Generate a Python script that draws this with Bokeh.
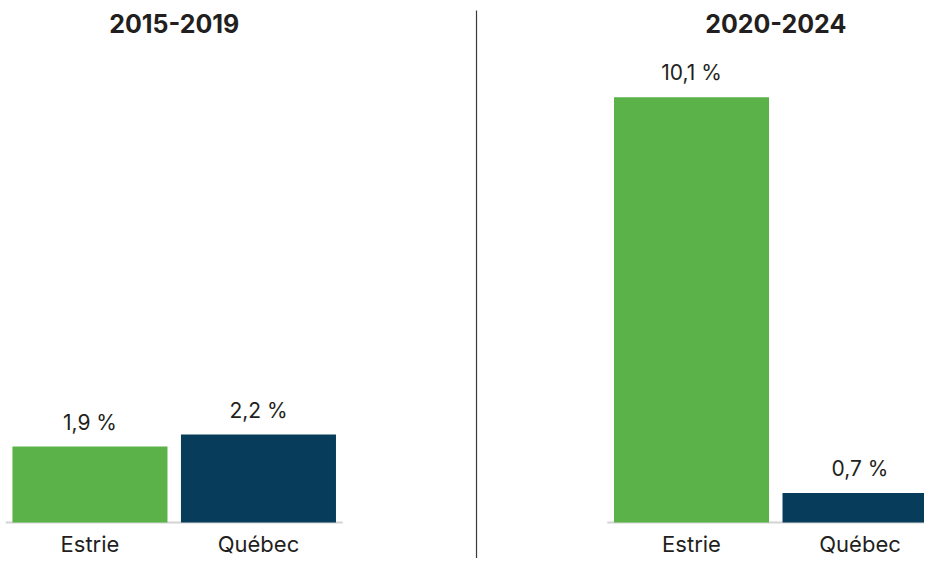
from bokeh.plotting import figure
from bokeh.models import ColumnDataSource, Range1d
from bokeh.core.properties import value
from bokeh.embed import file_html
from bokeh.resources import INLINE

# ---- data ----
periods = ["2015-2019", "2020-2024"]
regions = ["Estrie", "Québec"]
values_2015_2019 = [1.9, 2.2]
values_2020_2024 = [10.1, 0.7]
region_colors = ["#5AB248", "#073D5B"]

series = [values_2015_2019, values_2020_2024]

# ---- style / layout ----
W, H = 924, 558
PANEL_GAP = 3.57          # slot offset between the two panels
U = 168.5                 # px per slot
X_START = -0.531
BAR_W = 0.92
BASE_EXT = 0.5
BASE_PX = 36              # px from frame bottom to baseline
PX_PER_UNIT = [40.0, 42.1]
DIVIDER_X = 2.294
DIVIDER_TOP_GAP_PX = 10
FONT = value("Inter")
TEXT_COLOR = "#231f20"


def fmt(v):
    return f"{v:.1f}".replace(".", ",") + " %"


p = figure(width=W, height=H,
           x_range=Range1d(X_START, X_START + W / U),
           y_range=Range1d(-BASE_PX / PX_PER_UNIT[0], (H - BASE_PX) / PX_PER_UNIT[0]),
           x_axis_type=None, y_axis_type=None,
           output_backend="svg", toolbar_location=None,
           min_border=0, outline_line_color=None,
           background_fill_color="white", border_fill_color="white")
p.extra_y_ranges = {"right": Range1d(-BASE_PX / PX_PER_UNIT[1], (H - BASE_PX) / PX_PER_UNIT[1])}
p.grid.visible = False

# vertical divider between the panels
p.segment(x0=[DIVIDER_X], y0=[p.y_range.start],
          x1=[DIVIDER_X], y1=[p.y_range.end - DIVIDER_TOP_GAP_PX / PX_PER_UNIT[0]],
          line_color="#3a3a3a", line_width=1.2)

range_names = ["default", "right"]
for i, (period, vals) in enumerate(zip(periods, series)):
    rn = range_names[i]
    yr = p.y_range if i == 0 else p.extra_y_ranges["right"]
    xs = [i * PANEL_GAP + j for j in range(len(regions))]
    src = ColumnDataSource(dict(x=xs, top=vals, color=region_colors,
                                label=[fmt(v) for v in vals], region=regions))
    # baseline
    p.segment(x0=[xs[0] - BASE_EXT], y0=[0], x1=[xs[-1] + BASE_EXT], y1=[0],
              line_color="#d3d3d3", line_width=2, y_range_name=rn)
    # bars
    p.vbar(x="x", top="top", bottom=0, width=BAR_W, fill_color="color",
           line_color=None, source=src, y_range_name=rn)
    # value labels
    p.text(x="x", y="top", text="label", source=src, y_range_name=rn,
           text_align="center", text_baseline="bottom", y_offset=-12,
           text_font=FONT, text_font_size="21px", text_color=TEXT_COLOR)
    # category labels
    p.text(x="x", y=0, text="region", source=src, y_range_name=rn,
           text_align="center", text_baseline="top", y_offset=8,
           text_font=FONT, text_font_size="22px", text_color=TEXT_COLOR)
    # panel title
    p.text(x=[sum(xs) / len(xs)], y=[yr.end], text=[period], y_range_name=rn,
           text_align="center", text_baseline="middle", y_offset=23,
           text_font=FONT, text_font_style="bold", text_font_size="25px",
           text_color=TEXT_COLOR)

open("out.html", "w").write(file_html(p, INLINE))
